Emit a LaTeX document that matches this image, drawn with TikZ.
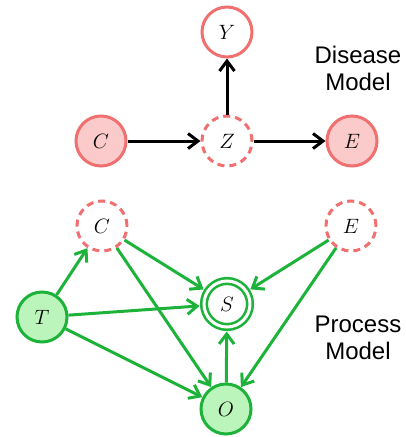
\documentclass[tikz,border=0pt]{standalone}
\usepackage{fontspec}
\newfontfamily\labelfont{Liberation Sans}
\usetikzlibrary{arrows.meta}
\definecolor{rstroke}{HTML}{F07070}
\definecolor{rfill}{HTML}{FBCACA}
\definecolor{gstroke}{HTML}{1DB33A}
\definecolor{gfill}{HTML}{BBF5BB}
\tikzset{
  var/.style={circle, minimum size=50pt, inner sep=0pt, line width=3pt, font=\fontsize{22}{26}\selectfont},
  redobs/.style={var, draw=rstroke, fill=rfill},
  redopen/.style={var, draw=rstroke, fill=white},
  redlat/.style={var, draw=rstroke, fill=white, dash pattern=on 7pt off 5pt},
  greenobs/.style={var, draw=gstroke, fill=gfill},
  greentarget/.style={var, minimum size=46pt, line width=2.6pt, draw=gstroke, double=white, double distance=3pt, outer sep=4.5pt},
  blackarrow/.style={line width=3pt, black, -{Straight Barb[length=10pt,width=15pt,line width=3pt]}},
  greenarrow/.style={line width=3pt, gstroke, -{Straight Barb[length=10pt,width=15pt,line width=3pt]}},
  modeltext/.style={font=\labelfont\fontsize{24}{27}\selectfont, align=center}
}
\begin{document}
\begin{tikzpicture}[x=1pt,y=-1pt]
\useasboundingbox (0,0) rectangle (406,437);
% Disease model
\node[redopen] (Y) at (227,32) {$Y$};
\node[redobs] (Ct) at (101,141) {$C$};
\node[redlat] (Z) at (227,141) {$Z$};
\node[redobs] (Et) at (352,141) {$E$};
\node[modeltext] (dm) at (358,68) {Disease\\Model};
\draw[blackarrow] (Ct) -- (Z);
\draw[blackarrow] (Z) -- (Y);
\draw[blackarrow] (Z) -- (Et);
% Process model
\node[redlat] (Cb) at (102,226) {$C$};
\node[redlat] (Eb) at (351,226) {$E$};
\node[greentarget] (S) at (227,304) {$S$};
\node[greenobs] (T) at (42,317) {$T$};
\node[greenobs] (O) at (226,409) {$O$};
\node[modeltext] (pm) at (358,338) {Process\\Model};
\draw[greenarrow] (T) -- (Cb);
\draw[greenarrow] (Cb) -- (S);
\draw[greenarrow] (Cb) -- (O);
\draw[greenarrow] (T) -- (S);
\draw[greenarrow] (T) -- (O);
\draw[greenarrow] (Eb) -- (S);
\draw[greenarrow] (Eb) -- (O);
\draw[greenarrow] (O) -- (S);
\end{tikzpicture}
\end{document}
